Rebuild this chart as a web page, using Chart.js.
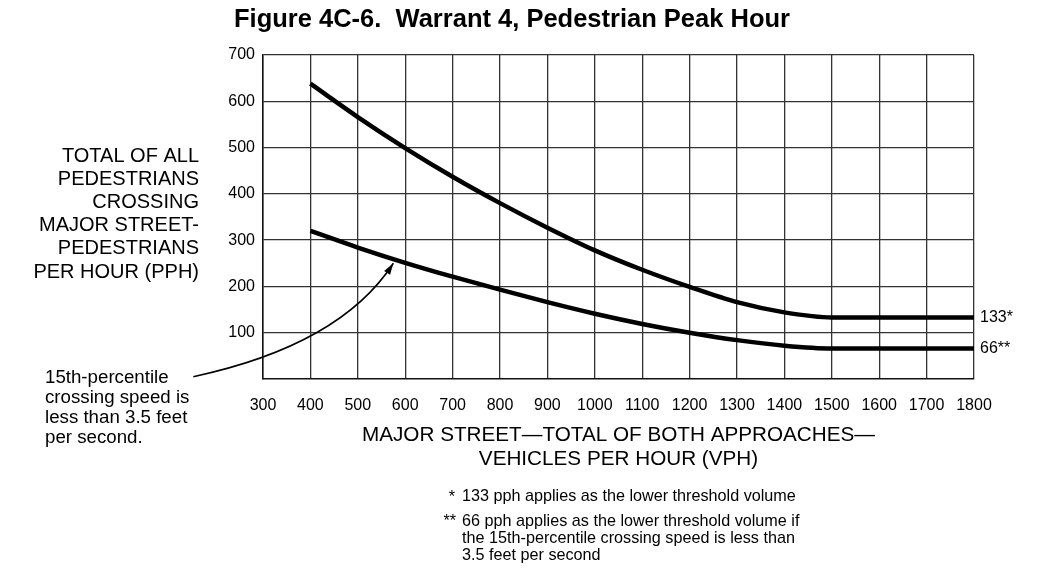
<!DOCTYPE html>
<html>
<head>
<meta charset="utf-8">
<script src="https://cdn.jsdelivr.net/npm/chart.js@4"></script>
<style>
  html, body { margin: 0; padding: 0; background: #fff; }
  #wrap { width: 1039px; height: 575px; }
</style>
</head>
<body>
<div id="wrap"><canvas id="warrant4"></canvas></div>
<script>
// values
var vph = [400, 500, 600, 700, 800, 900, 1000, 1100, 1200, 1300, 1400, 1500, 1600, 1700, 1800];
var pphNormal = [638, 566, 499, 437, 380, 327, 278, 236, 199, 166, 144, 133, 133, 133, 133];
var pphSlow = [320, 284, 251, 221, 193, 166, 141, 119, 100, 84, 72, 66, 66, 66, 66];
var xTicks = [300, 400, 500, 600, 700, 800, 900, 1000, 1100, 1200, 1300, 1400, 1500, 1600, 1700, 1800];
var endLabels = ["133*", "66**"];

var titleText = "Figure 4C-6.  Warrant 4, Pedestrian Peak Hour";
var yTitle = ["TOTAL OF ALL", "PEDESTRIANS", "CROSSING", "MAJOR STREET-", "PEDESTRIANS", "PER HOUR (PPH)"];
var xTitle = ["MAJOR STREET\u2014TOTAL OF BOTH APPROACHES\u2014", "VEHICLES PER HOUR (VPH)"];
var noteText = ["15th-percentile", "crossing speed is", "less than 3.5 feet", "per second."];
// arrow from the note to the lower curve, in data units
var arrowFrom = [153, 5];
var arrowBend = [463, 73];
var arrowTo = [575, 250];

var FONT = "'Liberation Sans', Arial, Helvetica, sans-serif";

function pts(ys) {
  var out = [];
  for (var i = 0; i < vph.length; i++) out.push({ x: vph[i], y: ys[i] });
  return out;
}

// draws the figure text that sits outside the chart's own title/axes
var extras = {
  id: 'extras',
  afterDraw: function (chart) {
    var ctx = chart.ctx;
    var xs = chart.scales.x, ys = chart.scales.y;
    var area = chart.chartArea;
    ctx.save();
    ctx.fillStyle = '#000';
    ctx.textBaseline = 'middle';

    ctx.font = "bold 25.5px " + FONT;
    ctx.textAlign = 'center';
    ctx.fillText(titleText, 512, 20);

    ctx.font = "20px " + FONT;
    ctx.textAlign = 'right';
    for (var i = 0; i < yTitle.length; i++) ctx.fillText(yTitle[i], 199, 156 + i * 23.2);

    ctx.font = "20.7px " + FONT;
    ctx.textAlign = 'center';
    var cx = (area.left + area.right) / 2;
    ctx.fillText(xTitle[0], cx, 435);
    ctx.fillText(xTitle[1], cx, 459);

    ctx.font = "16px " + FONT;
    ctx.textAlign = 'left';
    ctx.fillText(endLabels[0], area.right + 6, ys.getPixelForValue(pphNormal[pphNormal.length - 1]));
    ctx.fillText(endLabels[1], area.right + 6, ys.getPixelForValue(pphSlow[pphSlow.length - 1]));

    ctx.font = "18.7px " + FONT;
    for (var j = 0; j < noteText.length; j++) ctx.fillText(noteText[j], 45, 378 + j * 20);

    ctx.font = "16.2px " + FONT;
    ctx.textAlign = 'right';
    ctx.fillText("*", 455, 498);
    ctx.fillText("**", 456, 522);
    ctx.textAlign = 'left';
    ctx.fillText("133 pph applies as the lower threshold volume", 462, 497);
    ctx.fillText("66 pph applies as the lower threshold volume if", 462, 522);
    ctx.fillText("the 15th-percentile crossing speed is less than", 462, 539);
    ctx.fillText("3.5 feet per second", 462, 556);

    // arrow
    var p0 = [xs.getPixelForValue(arrowFrom[0]), ys.getPixelForValue(arrowFrom[1])];
    var c = [xs.getPixelForValue(arrowBend[0]), ys.getPixelForValue(arrowBend[1])];
    var p1 = [xs.getPixelForValue(arrowTo[0]), ys.getPixelForValue(arrowTo[1])];
    ctx.strokeStyle = '#000';
    ctx.lineWidth = 1.6;
    ctx.beginPath();
    ctx.moveTo(p0[0], p0[1]);
    ctx.quadraticCurveTo(c[0], c[1], p1[0], p1[1]);
    ctx.stroke();
    var ang = Math.atan2(p1[1] - c[1], p1[0] - c[0]);
    ctx.beginPath();
    ctx.moveTo(p1[0], p1[1]);
    ctx.lineTo(p1[0] - 12 * Math.cos(ang - 0.3), p1[1] - 12 * Math.sin(ang - 0.3));
    ctx.lineTo(p1[0] - 12 * Math.cos(ang + 0.3), p1[1] - 12 * Math.sin(ang + 0.3));
    ctx.closePath();
    ctx.fill();
    ctx.restore();
  }
};

new Chart(document.getElementById("warrant4"), {
  type: 'line',
  data: {
    datasets: [
      {
        label: "133 pph",
        data: pts(pphNormal),
        borderColor: '#000',
        borderWidth: 4.5,
        pointRadius: 0,
        cubicInterpolationMode: 'monotone'
      },
      {
        label: "66 pph",
        data: pts(pphSlow),
        borderColor: '#000',
        borderWidth: 4.5,
        pointRadius: 0,
        cubicInterpolationMode: 'monotone'
      }
    ]
  },
  options: {
    responsive: true,
    maintainAspectRatio: false,
    animation: false,
    layout: { padding: { left: 203, right: 65, top: 55, bottom: 156 } },
    plugins: { legend: { display: false }, tooltip: { enabled: false } },
    scales: {
      x: {
        type: 'linear',
        min: 300,
        max: 1800,
        afterBuildTicks: function (s) { s.ticks = xTicks.map(function (v) { return { value: v }; }); },
        afterFit: function (s) { s.height = 40; },
        grid: { color: '#333', lineWidth: 1.3, drawTicks: false },
        border: { color: '#111', width: 1.5 },
        ticks: {
          color: '#000',
          padding: 17,
          font: { family: FONT, size: 16 },
          callback: function (v) { return String(v); }
        }
      },
      y: {
        min: 0,
        max: 700,
        afterFit: function (s) { s.width = 60; },
        grid: {
          color: function (c) { return c.tick.value === 0 ? 'rgba(0,0,0,0)' : '#333'; },
          lineWidth: 1.3,
          drawTicks: false
        },
        border: { color: '#111', width: 1.5 },
        ticks: {
          stepSize: 100,
          color: '#000',
          padding: 8,
          font: { family: FONT, size: 16 },
          callback: function (v) { return v === 0 ? '' : String(v); }
        }
      }
    }
  },
  plugins: [extras]
});
</script>
</body>
</html>
